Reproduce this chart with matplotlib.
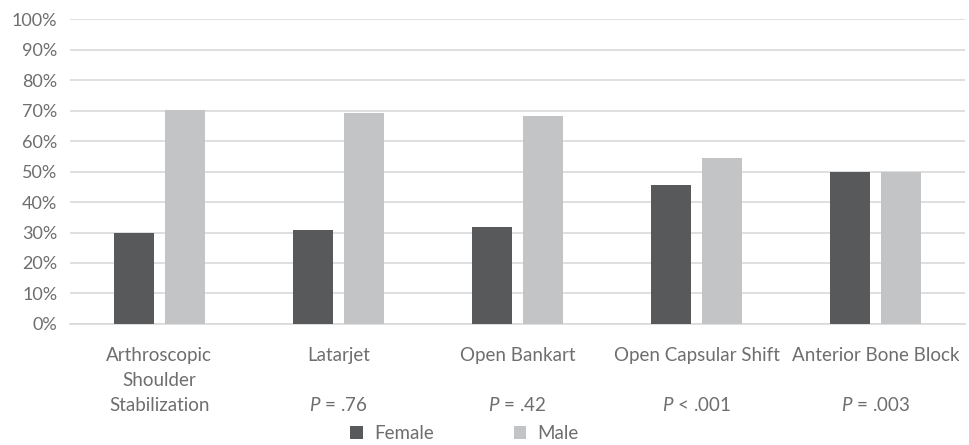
import numpy as np
import matplotlib
matplotlib.use("Agg")
import matplotlib.pyplot as plt
from matplotlib.ticker import PercentFormatter

plt.rcParams['font.family'] = ['Lato', 'DejaVu Sans']
plt.rcParams['mathtext.fontset'] = 'custom'
plt.rcParams['mathtext.it'] = 'Lato:italic'
plt.rcParams['mathtext.rm'] = 'Lato'

categories = ["Arthroscopic\nShoulder\nStabilization", "Latarjet", "Open Bankart",
              "Open Capsular Shift", "Anterior Bone Block"]
p_values = ["", r"$\mathit{P}$ = .76", r"$\mathit{P}$ = .42",
            r"$\mathit{P}$ < .001", r"$\mathit{P}$ = .003"]
female = [29.8, 30.9, 31.7, 45.5, 50.0]
male = [70.2, 69.1, 68.3, 54.5, 50.0]

text_col = '#6e6e6e'
fs = 13.5
fig = plt.figure(figsize=(9.7, 4.45), dpi=100)
ax = fig.add_axes([0.072, 0.272, 0.923, 0.685])

x = np.arange(len(categories))
w = 0.223
off = 0.142
ax.bar(x - off, female, w, color='#58595b', label='Female', zorder=3)
ax.bar(x + off, male, w, color='#c3c4c6', label='Male', zorder=3)

ax.set_xlim(-0.5, len(categories) - 0.5)
ax.set_ylim(0, 100)
ax.set_yticks(np.arange(0, 101, 10))
ax.yaxis.set_major_formatter(PercentFormatter(decimals=0))
ax.grid(axis='y', color='#d9d9d9', linewidth=1.2, zorder=0)
for s in ['top', 'right', 'left']:
    ax.spines[s].set_visible(False)
ax.spines['bottom'].set_color('#d9d9d9')
ax.spines['bottom'].set_linewidth(1.2)
ax.tick_params(length=0, labelcolor=text_col)
ax.tick_params(axis='y', pad=9, labelsize=13)

ax.set_xticks(x)
ax.set_xticklabels([])
for xi, c, p in zip(x, categories, p_values):
    ax.text(xi, -7.5, c, ha='center', va='top', fontsize=fs, color=text_col,
            linespacing=1.58)
    if p:
        ax.text(xi, -26.6, p, ha='center', va='center', fontsize=fs, color=text_col)

ax.legend(loc='center', bbox_to_anchor=(0.441, -0.36), ncol=2, frameon=False,
          fontsize=fs, labelcolor=text_col, handlelength=0.65, handleheight=0.65,
          columnspacing=4.3, handletextpad=0.6)

fig.savefig("out.png", dpi=100)
